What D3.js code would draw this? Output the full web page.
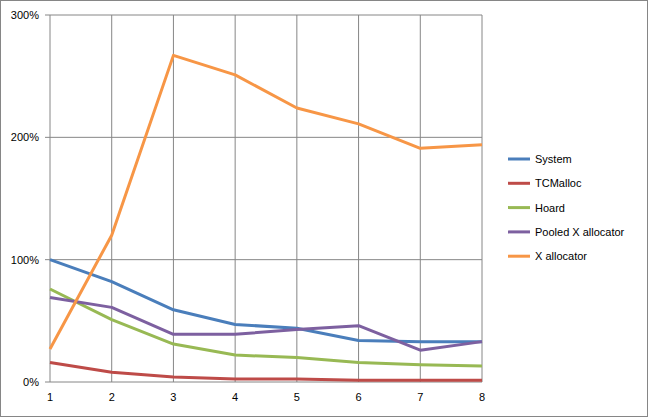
<!DOCTYPE html>
<html><head><meta charset="utf-8">
<script src="https://cdn.jsdelivr.net/npm/d3@7"></script>
<style>body{margin:0;background:#fff}svg{font-family:"Liberation Sans",Arial,sans-serif;font-size:11px}</style>
</head><body><div id="chart"></div>
<script>
const threads = [1, 2, 3, 4, 5, 6, 7, 8];
const yTicks = [0, 100, 200, 300];
const seriesNames = ['System', 'TCMalloc', 'Hoard', 'Pooled X allocator', 'X allocator'];
const seriesColors = ['#4a7ebb', '#be4b48', '#98b954', '#7d60a0', '#f79646'];
const systemVals = [100, 82, 59, 47, 44, 34, 33, 33];
const tcmallocVals = [16, 8, 4, 2.5, 2.5, 1.5, 1.5, 1.5];
const hoardVals = [76, 51, 31, 22, 20, 16, 14, 13];
const pooledVals = [69, 61, 39, 39, 43, 46, 26, 33];
const xallocVals = [27, 120, 267, 251, 224, 211, 191, 194];
const allVals = [systemVals, tcmallocVals, hoardVals, pooledVals, xallocVals];

const W = 648, H = 417;
const svg = d3.select('#chart').append('svg').attr('width', W).attr('height', H);
svg.append('rect').attr('x', 0.5).attr('y', 0.5).attr('width', W - 1).attr('height', H - 1)
    .attr('fill', '#fff').attr('stroke', '#868686');

const x = d3.scaleLinear().domain([1, 8]).range([50, 482]);
const y = d3.scaleLinear().domain([0, 300]).range([382, 15]);

// gridlines
svg.append('g').selectAll('line').data(threads).enter().append('line')
    .attr('x1', d => x(d)).attr('x2', d => x(d)).attr('y1', y(300)).attr('y2', y(0))
    .attr('stroke', '#868686');
svg.append('g').selectAll('line').data(yTicks).enter().append('line')
    .attr('x1', x(1)).attr('x2', x(8)).attr('y1', d => y(d)).attr('y2', d => y(d))
    .attr('stroke', '#868686');

// axes labels
svg.append('g').selectAll('text').data(yTicks).enter().append('text')
    .attr('x', 39).attr('y', d => y(d) + 4).attr('text-anchor', 'end')
    .text(d => d + '%');
svg.append('g').selectAll('line').data(yTicks).enter().append('line')
    .attr('x1', 45).attr('x2', 50).attr('y1', d => y(d)).attr('y2', d => y(d)).attr('stroke', '#868686');
svg.append('g').selectAll('text').data(threads).enter().append('text')
    .attr('x', d => x(d)).attr('y', 401).attr('text-anchor', 'middle').text(d => d);

const line = d3.line().x((d, i) => x(threads[i])).y(d => y(d));
allVals.forEach((vals, i) => {
    svg.append('path').datum(vals).attr('d', line).attr('fill', 'none')
        .attr('stroke', seriesColors[i]).attr('stroke-width', 3).attr('stroke-linejoin', 'round');
});

// legend
const leg = svg.append('g').selectAll('g').data(seriesNames).enter().append('g')
    .attr('transform', (d, i) => `translate(508, ${159 + i * 24.3})`);
leg.append('line').attr('x1', 0).attr('x2', 22).attr('stroke', (d, i) => seriesColors[i]).attr('stroke-width', 3);
leg.append('text').attr('x', 27).attr('y', 4).text(d => d);
</script></body></html>
